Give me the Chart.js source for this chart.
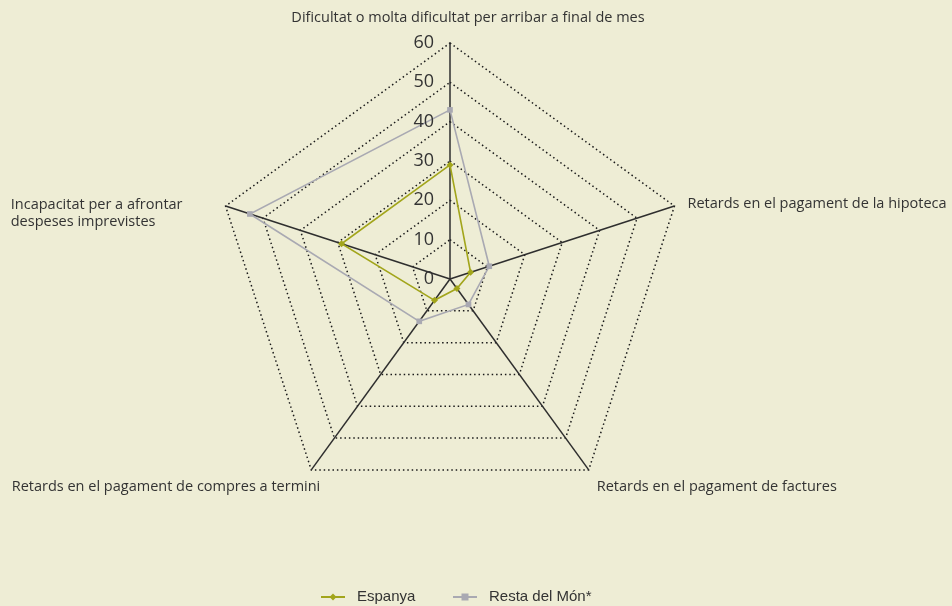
<!DOCTYPE html>
<html>
<head>
<meta charset="utf-8">
<script src="https://cdn.jsdelivr.net/npm/chart.js@4/dist/chart.umd.min.js"></script>
<style>
  html, body { margin: 0; padding: 0; background: #EEEDD5; }
  #wrap { width: 952px; height: 606px; }
</style>
</head>
<body>
<div id="wrap"><canvas id="c" width="952" height="606"></canvas></div>
<script>
const categories = [
  'Dificultat o molta dificultat per arribar a final de mes',
  'Retards en el pagament de la hipoteca',
  'Retards en el pagament de factures',
  'Retards en el pagament de compres a termini',
  ['Incapacitat per a afrontar', 'despeses imprevistes']
];
const espanya = [29, 5.5, 3, 6.7, 29];
const restaMon = [43, 10.5, 8, 13.3, 53.5];
const tickValues = [0, 10, 20, 30, 40, 50, 60];
const seriesNames = ['Espanya', 'Resta del Món*'];

const COL_ESP = '#A2A51B';
const COL_RES = '#A9A9B2';
const TEXT = '#333333';
const LABEL_FONT = '14.5px "Open Sans"';

const labelPlugin = {
  id: 'customLabels',
  beforeDraw(chart) {
    const ctx = chart.ctx;
    ctx.save();
    ctx.fillStyle = '#EEEDD5';
    ctx.fillRect(0, 0, chart.width, chart.height);
    ctx.restore();
  },
  afterDraw(chart) {
    const ctx = chart.ctx;
    const s = chart.scales.r;
    ctx.save();
    // tick labels
    ctx.fillStyle = TEXT;
    ctx.font = '18px "Open Sans"';
    ctx.textAlign = 'right';
    ctx.textBaseline = 'middle';
    tickValues.forEach(v => {
      const d = s.getDistanceFromCenterForValue(v);
      ctx.fillText(String(v), s.xCenter - 16, s.yCenter - d);
    });
    // point labels
    ctx.font = LABEL_FONT;
    ctx.textBaseline = 'middle';
    categories.forEach((lab, i) => {
      const p = s.getPointPosition(i, s.drawingArea);
      const lines = Array.isArray(lab) ? lab : [lab];
      if (i === 0) {
        ctx.textAlign = 'center';
        ctx.fillText(lines[0], p.x + 18, p.y - 25);
      } else if (i === 1) {
        ctx.textAlign = 'left';
        ctx.fillText(lines[0], p.x + 13, p.y - 2);
      } else if (i === 2) {
        ctx.textAlign = 'left';
        ctx.fillText(lines[0], p.x + 8, p.y + 17);
      } else if (i === 3) {
        ctx.textAlign = 'right';
        ctx.fillText(lines[0], p.x + 9, p.y + 17);
      } else {
        ctx.textAlign = 'left';
        const w = ctx.measureText(lines[0]).width;
        const x0 = p.x - 43 - w;
        lines.forEach((ln, k) => ctx.fillText(ln, x0, p.y - 1 + k * 17));
      }
    });
    // legend
    const items = [
      {name: seriesNames[0], color: COL_ESP, style: 'diamond', x: 321},
      {name: seriesNames[1], color: COL_RES, style: 'square', x: 453}
    ];
    const ly = 597;
    ctx.font = '15px "Liberation Sans", Arial, sans-serif';
    ctx.textAlign = 'left';
    items.forEach(it => {
      ctx.strokeStyle = it.color;
      ctx.lineWidth = 2;
      ctx.beginPath();
      ctx.moveTo(it.x, ly);
      ctx.lineTo(it.x + 24, ly);
      ctx.stroke();
      ctx.fillStyle = it.color;
      const cx = it.x + 12;
      if (it.style === 'diamond') {
        ctx.beginPath();
        ctx.moveTo(cx, ly - 3.5); ctx.lineTo(cx + 3.5, ly); ctx.lineTo(cx, ly + 3.5); ctx.lineTo(cx - 3.5, ly);
        ctx.closePath(); ctx.fill();
      } else {
        ctx.fillRect(cx - 3.5, ly - 3.5, 7, 7);
      }
      ctx.fillStyle = TEXT;
      ctx.fillText(it.name, it.x + 36, ly);
    });
    ctx.restore();
  }
};

new Chart(document.getElementById('c'), {
  type: 'radar',
  data: {
    labels: categories,
    datasets: [
      {
        label: seriesNames[0],
        data: espanya,
        borderColor: COL_ESP,
        backgroundColor: COL_ESP,
        borderWidth: 1.6,
        fill: false,
        pointStyle: 'rectRot',
        pointRadius: 3.5,
        pointBorderWidth: 0,
        pointBackgroundColor: COL_ESP
      },
      {
        label: seriesNames[1],
        data: restaMon,
        borderColor: COL_RES,
        backgroundColor: COL_RES,
        borderWidth: 1.6,
        fill: false,
        pointStyle: 'rect',
        pointRadius: 4,
        pointBorderWidth: 0,
        pointBackgroundColor: COL_RES
      }
    ]
  },
  options: {
    responsive: false,
    animation: false,
    layout: { padding: { left: 0, right: 52, top: 43, bottom: 91 } },
    plugins: { legend: { display: false }, tooltip: { enabled: false } },
    elements: { line: { tension: 0 } },
    scales: {
      r: {
        min: 0,
        max: 60,
        ticks: { display: false, stepSize: 10 },
        pointLabels: { display: false },
        grid: { circular: false, color: '#1a1a1a', lineWidth: 1.5 },
        border: { dash: [1.5, 2.9] },
        angleLines: { display: true, color: '#2e2e2e', lineWidth: 1.5 }
      }
    }
  },
  plugins: [labelPlugin]
});
</script>
</body>
</html>
